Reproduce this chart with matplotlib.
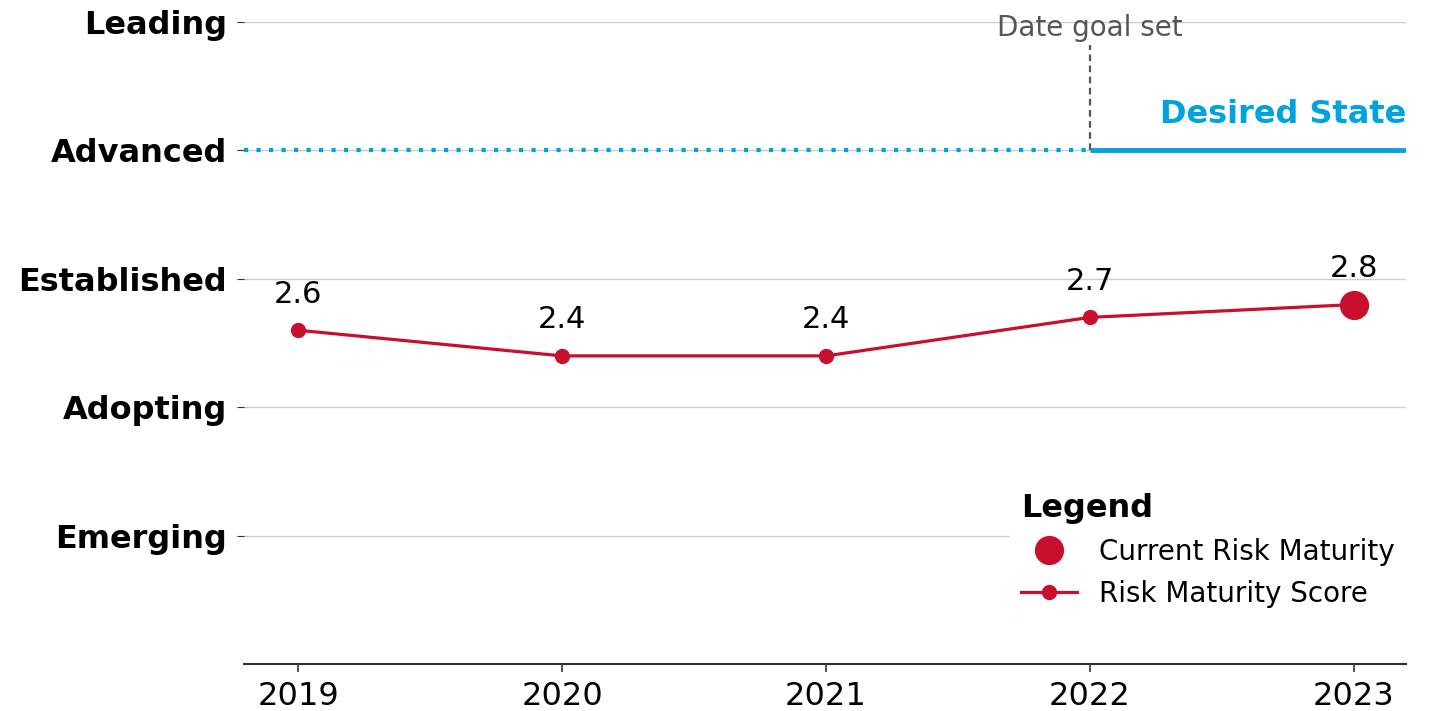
import matplotlib
matplotlib.use("Agg")
import matplotlib.pyplot as plt
from matplotlib.lines import Line2D

years = [2019, 2020, 2021, 2022, 2023]
scores = [2.6, 2.4, 2.4, 2.7, 2.8]
level_values = [1, 2, 3, 4, 5]
level_labels = ["Emerging", "Adopting", "Established", "Advanced", "Leading"]
desired_level = 4
goal_year = 2022

RED = "#C8102E"
BLUE = "#00A3E0"
GRAY = "#555555"

fig = plt.figure(figsize=(14.3, 7.11), dpi=100)
ax = fig.add_axes([0.1706, 0.066, 0.8126, 0.903])
ax.set_xlim(2018.795, 2023.197)
ax.set_ylim(0, 5)

ax.set_yticks(level_values)
ax.set_yticklabels(level_labels, fontsize=23, fontweight="bold")
ax.set_xticks(years)
ax.set_xticklabels([str(y) for y in years], fontsize=23)
ax.grid(axis="y", color="#cccccc", linewidth=1)
ax.set_axisbelow(True)
for s in ["top", "right", "left"]:
    ax.spines[s].set_visible(False)
ax.spines["bottom"].set_color("#333333")
ax.spines["bottom"].set_linewidth(1.5)
ax.tick_params(axis="y", length=5, color="#333333", pad=7)
ax.tick_params(axis="x", length=6, color="#333333", width=1.2, pad=6)

# desired state lines
xmin, xmax = ax.get_xlim()
ax.plot([xmin, goal_year], [desired_level, desired_level], color=BLUE,
        linestyle=(0, (1, 2)), linewidth=3, zorder=3)
ax.plot([goal_year, xmax], [desired_level, desired_level], color=BLUE,
        linewidth=3.5, zorder=3, solid_capstyle="butt")
ax.plot([goal_year, goal_year], [desired_level, 4.82], color=GRAY,
        linestyle=(0, (3, 2)), linewidth=1.6, zorder=3)
ax.text(goal_year, 4.955, "Date goal set", ha="center", va="center",
        fontsize=20, color=GRAY)
ax.text(xmax, 4.16, "Desired State", ha="right", va="bottom",
        fontsize=23, fontweight="bold", color=BLUE)

# scores
ax.plot(years, scores, color=RED, linewidth=2.3, marker="o", markersize=10,
        zorder=4, label="Risk Maturity Score")
ax.plot([years[-1]], [scores[-1]], "o", color=RED, markersize=20, zorder=5,
        label="Current Risk Maturity", linestyle="none")
for x, y in zip(years, scores):
    ax.annotate(f"{y}", (x, y), xytext=(0, 26), textcoords="offset points",
                ha="center", va="center", fontsize=22)

handles = [
    Line2D([], [], marker="o", color=RED, markersize=20, linestyle="none"),
    Line2D([], [], marker="o", color=RED, markersize=10, linewidth=2.3),
]
leg = ax.legend(handles, ["Current Risk Maturity", "Risk Maturity Score"],
                title="Legend", loc="lower right", bbox_to_anchor=(1.0, 0.07),
                fontsize=20, frameon=True, framealpha=1, facecolor="white",
                edgecolor="none", alignment="left", handlelength=2.0,
                borderaxespad=0)
leg.get_title().set_fontsize(23)
leg.get_title().set_fontweight("bold")
leg.set_zorder(10)

fig.savefig("out.png", dpi=100)
